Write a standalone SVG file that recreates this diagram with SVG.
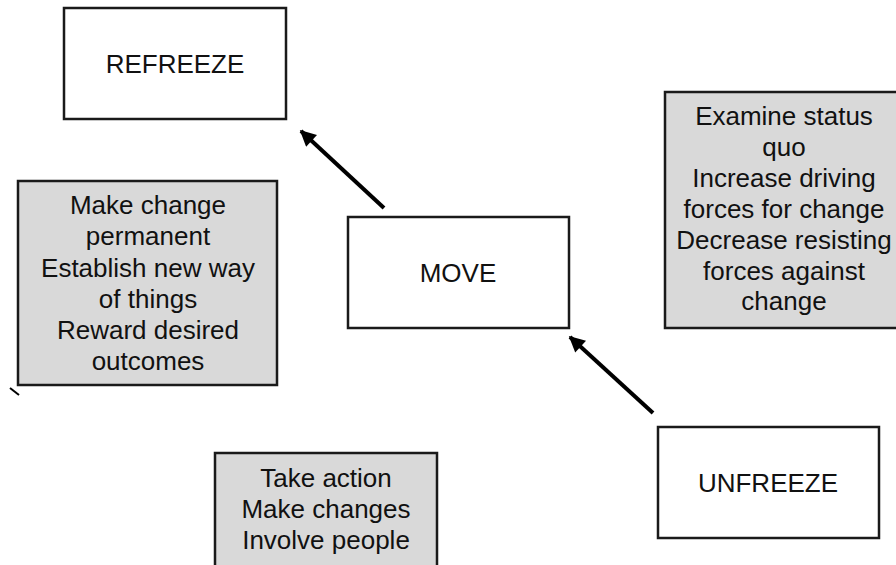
<svg xmlns="http://www.w3.org/2000/svg" width="896" height="565" viewBox="0 0 896 565">
<defs>
<style>
.box{fill:#ffffff;stroke:#1a1a1a;stroke-width:2.5}
.note{fill:#d9d9d9;stroke:#1a1a1a;stroke-width:2.5}
text{font-family:"Liberation Sans",Arial,sans-serif;font-size:26px;fill:#111;text-anchor:middle}
.conn{stroke:#000;stroke-width:4;fill:none;marker-end:url(#ah)}
</style>
<marker id="ah" viewBox="0 0 10 10" refX="9" refY="5" markerWidth="4.5" markerHeight="4" orient="auto" markerUnits="strokeWidth">
<path d="M0,0 L10,5 L0,10 z" fill="#000"/>
</marker>
</defs>
<rect width="896" height="565" fill="#ffffff"/>
<g id="refreeze">
<rect class="box" x="64" y="8" width="222" height="111"/>
<text x="175" y="73">REFREEZE</text>
</g>
<g id="move">
<rect class="box" x="348" y="217" width="221" height="111"/>
<text x="458" y="282">MOVE</text>
</g>
<g id="unfreeze">
<rect class="box" x="658" y="427" width="221" height="111"/>
<text x="768" y="492">UNFREEZE</text>
</g>
<g id="refreeze-notes">
<rect class="note" x="18" y="181" width="259" height="204"/>
<text x="148" y="214">Make change</text>
<text x="148" y="245">permanent</text>
<text x="148" y="277">Establish new way</text>
<text x="148" y="308">of things</text>
<text x="148" y="339">Reward desired</text>
<text x="148" y="370">outcomes</text>
</g>
<g id="unfreeze-notes">
<rect class="note" x="665" y="92" width="233" height="236"/>
<text x="784" y="125">Examine status</text>
<text x="784" y="156">quo</text>
<text x="784" y="187">Increase driving</text>
<text x="784" y="218">forces for change</text>
<text x="784" y="249">Decrease resisting</text>
<text x="784" y="280">forces against</text>
<text x="784" y="310">change</text>
</g>
<g id="move-notes">
<rect class="note" x="215" y="453" width="222" height="114"/>
<text x="326" y="487">Take action</text>
<text x="326" y="518">Make changes</text>
<text x="326" y="549">Involve people</text>
</g>
<g id="connectors">
<line class="conn" x1="384" y1="208" x2="301" y2="131"/>
<line class="conn" x1="653" y1="413" x2="570" y2="337"/>
<path d="M10,388 L19,395" stroke="#000" stroke-width="2" fill="none"/>
</g>
</svg>
